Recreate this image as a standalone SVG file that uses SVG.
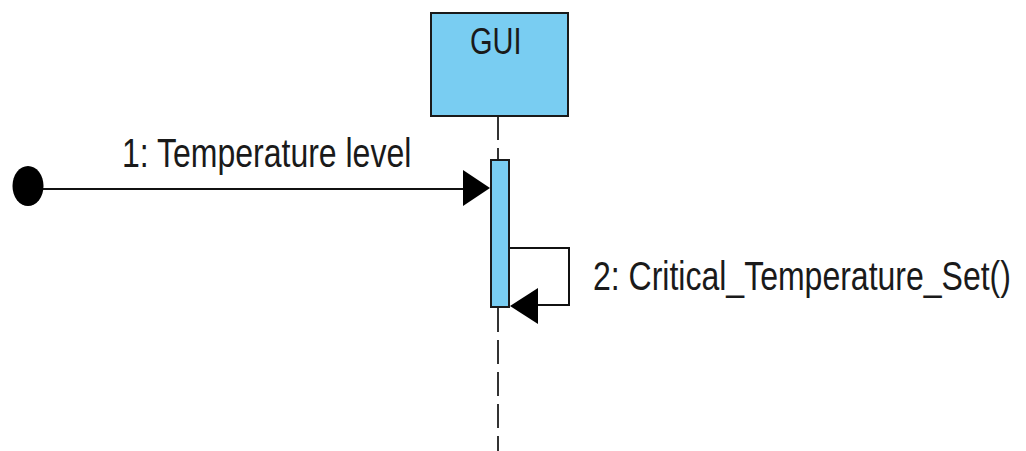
<svg xmlns="http://www.w3.org/2000/svg" width="1026" height="451" viewBox="0 0 1026 451">
<style>
.txt{font-family:"Liberation Sans",Arial,sans-serif;fill:#1a1a1a}
.box{fill:#79cdf2;stroke:#1a1a1a;stroke-width:2}
.line{stroke:#111;stroke-width:2;fill:none}
.life{stroke:#333;stroke-width:2;stroke-dasharray:24 8;fill:none}
</style>
<rect width="1026" height="451" fill="#fff"/>
<g id="connectors">
<line class="life" x1="498" y1="116" x2="498" y2="451"/>
<line class="line" x1="40" y1="189" x2="470" y2="189"/>
<polygon points="490,188 463,170 463,206" fill="#000"/>
<polyline class="line" points="510,248 569,248 569,305 520,305"/>
<polygon points="510,306 538,288 538,324" fill="#000"/>
<text class="txt" transform="translate(122,167) scale(1,1.25)" x="0" y="0" font-size="32">1: Temperature level</text>
<text class="txt" transform="translate(593,290) scale(1,1.25)" x="0" y="0" font-size="32">2: Critical_Temperature_Set()</text>
</g>
<g id="start">
<ellipse cx="28" cy="186" rx="15.5" ry="20" fill="#000"/>
</g>
<g id="gui">
<rect class="box" x="431" y="13" width="137" height="103"/>
<text class="txt" transform="translate(470,54) scale(1,1.25)" x="0" y="0" font-size="29">GUI</text>
</g>
<g id="activation">
<rect class="box" x="491" y="160" width="18" height="147"/>
</g>
</svg>
